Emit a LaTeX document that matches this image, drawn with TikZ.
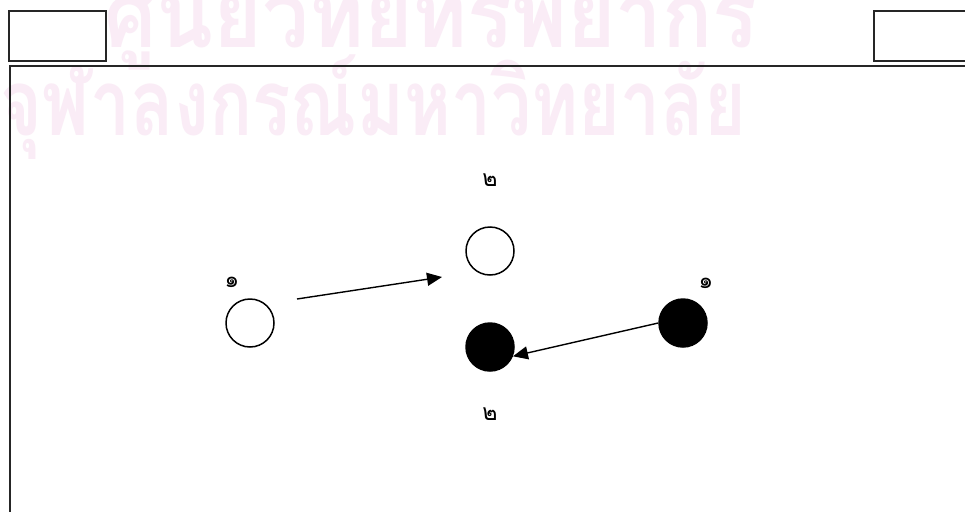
\documentclass[tikz,border=0pt]{standalone}
\usepackage{fontspec}
\newfontfamily\thaifont[Script=Thai]{Loma}
\usetikzlibrary{arrows.meta}
\definecolor{markpink}{RGB}{250,236,246}
\begin{document}
\begin{tikzpicture}[x=1pt,y=-1pt,
  dot/.style={circle, draw, line width=1.5pt, minimum size=48pt, inner sep=0pt},
  blackdot/.style={dot, fill=black},
  numlabel/.style={font=\thaifont\fontsize{23}{23}\selectfont, inner sep=0pt},
  watermark/.style={font=\thaifont\bfseries\fontsize{92}{92}\selectfont, text=markpink, inner sep=0pt, anchor=base west},
  frameline/.style={line width=2pt, draw=black!85},
  link/.style={line width=1.4pt, -{Triangle[length=15pt, width=13pt]}}]
\clip (0,0) rectangle (965,511);
\fill[white] (0,0) rectangle (965,511);

% watermark
\node[watermark, xscale=0.904] (wm1) at (104,48) {ศูนย์วิทยทรัพยากร};
\node[watermark, xscale=0.776] (wm2) at (0,135) {จุฬาลงกรณ์มหาวิทยาลัย};

% boxes and frame
\node[draw, frameline, rectangle, minimum width=97pt, minimum height=50pt] (boxl) at (57.5,36) {};
\node[draw, frameline, rectangle, minimum width=110pt, minimum height=50pt, anchor=west] (boxr) at (873,36) {};
\draw[frameline] (10,520) -- (10,66) -- (975,66);

% circles
\node[dot] (lo) at (250,323) {};
\node[dot] (mo) at (490,251) {};
\node[blackdot] (mb) at (490,347) {};
\node[blackdot] (rb) at (683,323) {};

\node[numlabel] (n1) at (232,282) {๑};
\node[numlabel] (n2) at (490,180) {๒};
\node[numlabel] (n3) at (490,414) {๒};
\node[numlabel] (n4) at (706,283) {๑};

\coordinate (s1) at (297,299);
\coordinate (e1) at (442,277);
\draw[link] (s1) -- (e1);
\draw[link] (rb.west) -- (mb.-22);
\end{tikzpicture}
\end{document}
